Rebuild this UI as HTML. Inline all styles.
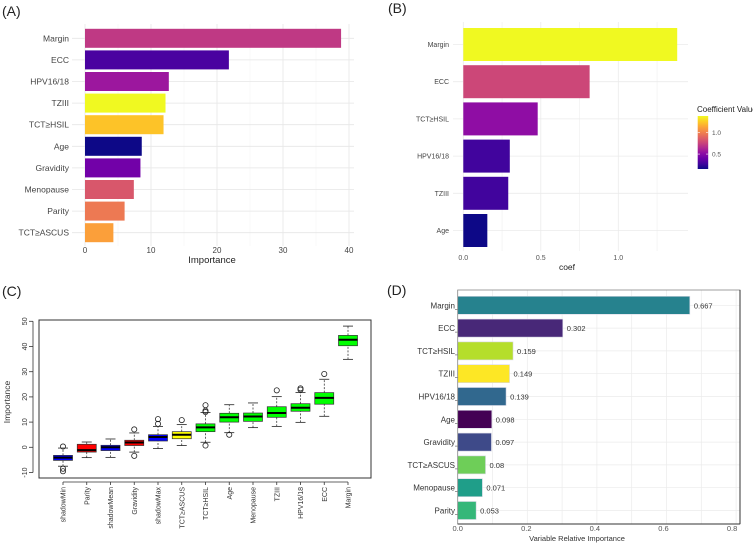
<!DOCTYPE html>
<html><head><meta charset="utf-8"><style>
html,body{margin:0;padding:0;background:#fff;}
svg{display:block;font-family:"Liberation Sans",Arial,sans-serif;}
</style></head><body>
<svg id="fig" width="753" height="544" viewBox="0 0 753 544" xmlns="http://www.w3.org/2000/svg">
<rect width="753" height="544" fill="#fff"/>
<text x="2" y="16" font-size="14" fill="#222">(A)</text>
<text x="388" y="13" font-size="14" fill="#222">(B)</text>
<text x="2" y="296" font-size="14" fill="#222">(C)</text>
<text x="387" y="295" font-size="14" fill="#222">(D)</text>
<g id="pa"></g>
<g id="pb"></g>
<g id="pc"></g>
<g id="pd"></g>
</svg>
<script>
// Panel A
const aCats = ["Margin","ECC","HPV16/18","TZIII","TCT≥HSIL","Age","Gravidity","Menopause","Parity","TCT≥ASCUS"];
const aVals = [38.8,21.8,12.7,12.2,11.9,8.6,8.4,7.4,6.0,4.3];
const aColors = ["#bf3984","#4a02a0","#9c179e","#f0f921","#fdc328","#0d0887","#7201a8","#d8576b","#ed7953","#fb9f3a"];
const aTicks = [0,10,20,30,40];
// Panel B
const bCats = ["Margin","ECC","TCT≥HSIL","HPV16/18","TZIII","Age"];
const bVals = [1.38,0.815,0.48,0.30,0.29,0.155];
const bTicks = [0,0.5,1.0];
const bLegendTicks = [0.5,1.0];
// Panel C
const cCats = ["shadowMin","Parity","shadowMean","Gravidity","shadowMax","TCT≥ASCUS","TCT≥HSIL","Age","Menopause","TZIII","HPV16/18","ECC","Margin"];
const cLo = [-7.5,-4.1,-4,-1.9,-0.5,0.7,2,5.8,7.8,8.3,9.9,12.3,34.9];
const cQ1 = [-5.2,-1.9,-1.3,0.7,2.5,3.4,6.2,10,10.3,11.9,14.3,17.1,40.3];
const cMed = [-4.1,-1.1,0,1.9,4.1,5,7.9,11.9,12.2,13.6,15.7,19.6,42.7];
const cQ3 = [-3.2,1.2,0.8,2.8,5,6.2,9.3,13.5,13.6,16.1,17.3,21.7,44.4];
const cHi = [-0.3,2.1,3.3,5.7,8.3,9,13.8,16.9,17.6,20.1,21.7,27,48.1];
const cOut = [[0.3,-8.5,-9.5],[],[],[7.1,-3.4],[11.2,9.3],[10.8],[16.7,14.5,14,0.7],[5],[],[22.6],[23.4,22.9],[29.1],[]];
const cColors = ["#0000ff","#ff0000","#0000ff","#ff0000","#0000ff","#ffff00","#00ff00","#00ff00","#00ff00","#00ff00","#00ff00","#00ff00","#00ff00"];
const cTicks = [-10,0,10,20,30,40,50];
// Panel D
const dCats = ["Margin","ECC","TCT≥HSIL","TZIII","HPV16/18","Age","Gravidity","TCT≥ASCUS","Menopause","Parity"];
const dVals = [0.667,0.302,0.159,0.149,0.139,0.098,0.097,0.08,0.071,0.053];
const dLabels = ["0.667","0.302","0.159","0.149","0.139","0.098","0.097","0.08","0.071","0.053"];
const dColors = ["#26828e","#482878","#b5de2b","#fde725","#31688e","#440154","#3e4a89","#6ece58","#1f9e89","#35b779"];
const dTicks = [0,0.2,0.4,0.6,0.8];

const NS="http://www.w3.org/2000/svg";
function mk(parent,tag,attrs,text){const e=document.createElementNS(NS,tag);for(const k in attrs)e.setAttribute(k,attrs[k]);if(text!==undefined)e.textContent=text;parent.appendChild(e);return e;}

// ---------- A ----------
(function(){
const g=document.getElementById('pa');
const x=v=>85+v*(264/40), y0=38.3, step=21.6, bh=19;
for(let v=0;v<=40;v+=5){const l=mk(g,'line',{x1:x(v),x2:x(v),y1:24,y2:246,stroke:v%10?'#f2f2f2':'#e6e6e6','stroke-width':v%10?0.5:0.8});

}
aCats.forEach((c,i)=>{const cy=y0+i*step;
const gl=mk(g,'line',{x1:72,x2:354,y1:cy,y2:cy,stroke:'#e6e6e6','stroke-width':0.8});


const r=mk(g,'rect',{x:x(0),y:cy-bh/2,width:x(aVals[i])-x(0),height:bh,fill:aColors[i]});


const t=mk(g,'text',{x:69,y:cy+3,'font-size':8.5,'text-anchor':'end',fill:'#444'},c);

});
aTicks.forEach(v=>{const t=mk(g,'text',{x:x(v),y:253,'font-size':8,'text-anchor':'middle',fill:'#444'},v);

});
const tt=mk(g,'text',{x:212,y:263,'font-size':9.5,'text-anchor':'middle',fill:'#222'},'Importance');


})();

// ---------- B ----------
(function(){
const g=document.getElementById('pb');
const x=v=>463.3+v*155, y0=44.5, step=37.2, bh=33;
const plasma=["#0d0887","#41049d","#6a00a8","#8f0da4","#b12a90","#cc4778","#e16462","#f2844b","#fca636","#fcce25","#f0f921"];
const vmin=Math.min(...bVals), vmax=Math.max(...bVals);
const col=v=>plasma[Math.round((v-vmin)/(vmax-vmin)*10)];
for(let v=0;v<=1.4;v+=0.25){const l=mk(g,'line',{x1:x(v),x2:x(v),y1:22,y2:251,stroke:'#ebebeb','stroke-width':Math.abs(v*2-Math.round(v*2))<0.01?0.8:0.5});

}
bCats.forEach((c,i)=>{const cy=y0+i*step;
const gl=mk(g,'line',{x1:453,x2:688,y1:cy,y2:cy,stroke:'#ebebeb','stroke-width':0.8});


const r=mk(g,'rect',{x:x(0),y:cy-bh/2,width:x(bVals[i])-x(0),height:bh,fill:col(bVals[i])});


const t=mk(g,'text',{x:449,y:cy+2.5,'font-size':7,'text-anchor':'end',fill:'#444'},c);

});
bTicks.forEach(v=>{const t=mk(g,'text',{x:x(v),y:260,'font-size':7,'text-anchor':'middle',fill:'#555'},v.toFixed(1));

});
const tt=mk(g,'text',{x:567,y:270,'font-size':8.5,'text-anchor':'middle',fill:'#222'},'coef');


// colorbar
const defs=mk(g,'defs',{});
const lg=mk(defs,'linearGradient',{id:'plasmaGrad',x1:0,y1:1,x2:0,y2:0});
plasma.forEach((c,i)=>mk(lg,'stop',{offset:(i/10),'stop-color':c}));
const ly=v=>169-(v-vmin)/(vmax-vmin)*53;
const cb=mk(g,'rect',{x:697.7,y:116,width:10.5,height:53,fill:'url(#plasmaGrad)'});


bLegendTicks.forEach(v=>{mk(g,'line',{x1:697.7,x2:700,y1:ly(v),y2:ly(v),stroke:'#fff','stroke-width':0.6});mk(g,'line',{x1:706,x2:708.2,y1:ly(v),y2:ly(v),stroke:'#fff','stroke-width':0.6});
const t=mk(g,'text',{x:712,y:ly(v)+2.5,'font-size':6.5,fill:'#555'},v.toFixed(1));

});
const lt=mk(g,'text',{x:697,y:112,'font-size':8,fill:'#222'},'Coefficient Value');


})();

// ---------- C ----------
(function(){
const g=document.getElementById('pc');
const y=v=>447.3-v*2.52, x=i=>63+i*23.75, bw=19;
const box=mk(g,'rect',{x:39,y:320,width:332,height:158,fill:'none',stroke:'#333','stroke-width':1});


mk(g,'line',{x1:33,x2:33,y1:y(-10),y2:y(50),stroke:'#333','stroke-width':0.8});
cTicks.forEach(v=>{mk(g,'line',{x1:29,x2:33,y1:y(v),y2:y(v),stroke:'#333','stroke-width':0.8});
const t=mk(g,'text',{x:0,y:0,'font-size':7,'text-anchor':'middle',fill:'#333',transform:`translate(27,${y(v)}) rotate(-90)`},v);

});
const yt=mk(g,'text',{x:0,y:0,'font-size':8.5,'text-anchor':'middle',fill:'#333',transform:'translate(10,402) rotate(-90)'},'Importance');


mk(g,'line',{x1:x(0),x2:x(12),y1:482,y2:482,stroke:'#333','stroke-width':0.8});
cCats.forEach((c,i)=>{const cx=x(i);
mk(g,'line',{x1:cx,x2:cx,y1:y(cLo[i]),y2:y(cQ1[i]),stroke:'#222','stroke-width':0.7,'stroke-dasharray':'2,1.5'});
mk(g,'line',{x1:cx,x2:cx,y1:y(cQ3[i]),y2:y(cHi[i]),stroke:'#222','stroke-width':0.7,'stroke-dasharray':'2,1.5'});
mk(g,'line',{x1:cx-5,x2:cx+5,y1:y(cLo[i]),y2:y(cLo[i]),stroke:'#222','stroke-width':0.8});
mk(g,'line',{x1:cx-5,x2:cx+5,y1:y(cHi[i]),y2:y(cHi[i]),stroke:'#222','stroke-width':0.8});
const r=mk(g,'rect',{x:cx-bw/2,y:y(cQ3[i]),width:bw,height:y(cQ1[i])-y(cQ3[i]),fill:cColors[i],stroke:'#333','stroke-width':0.7});


mk(g,'line',{x1:cx-bw/2,x2:cx+bw/2,y1:y(cMed[i]),y2:y(cMed[i]),stroke:'#000','stroke-width':2});
cOut[i].forEach(o=>{const p=mk(g,'circle',{cx:cx,cy:y(o),r:2.6,fill:'none',stroke:'#222','stroke-width':0.8});

});
mk(g,'line',{x1:cx,x2:cx,y1:482,y2:485,stroke:'#333','stroke-width':0.8});
const t=mk(g,'text',{x:0,y:0,'font-size':7,'text-anchor':'end',fill:'#333',transform:`translate(${cx+2.5},487) rotate(-90)`},c);

});
})();

// ---------- D ----------
(function(){
const g=document.getElementById('pd');
const x=v=>457.7+v*348, y0=305.3, step=22.8, bh=18;
for(let v=0;v<=0.8;v+=0.1){const l=mk(g,'line',{x1:x(v),x2:x(v),y1:290,y2:524,stroke:'#ebebeb','stroke-width':0.7});

}
dCats.forEach((c,i)=>{const cy=y0+i*step;
const gl=mk(g,'line',{x1:457.7,x2:740,y1:cy,y2:cy,stroke:'#ebebeb','stroke-width':0.7});


const r=mk(g,'rect',{x:x(0),y:cy-bh/2,width:x(dVals[i])-x(0),height:bh,fill:dColors[i],stroke:'#d9d9e6','stroke-width':0.6});


const vt=mk(g,'text',{x:x(dVals[i])+4,y:cy+3,'font-size':7.5,fill:'#333'},dLabels[i]);


mk(g,'line',{x1:455,x2:457.7,y1:cy+4,y2:cy+4,stroke:'#555','stroke-width':0.6});
const t=mk(g,'text',{x:455,y:cy+3,'font-size':8,'text-anchor':'end',fill:'#333'},c);

});
const fr=mk(g,'rect',{x:457.7,y:290,width:282.3,height:234,fill:'none',stroke:'#888','stroke-width':0.8});


mk(g,'line',{x1:457.7,x2:740,y1:524,y2:524,stroke:'#333','stroke-width':1});
mk(g,'line',{x1:740,x2:740,y1:290,y2:524,stroke:'#333','stroke-width':1});
dTicks.forEach(v=>{const px=457.7+v*343;
const t=mk(g,'text',{x:px,y:531,'font-size':7.5,'text-anchor':'middle',fill:'#555'},v.toFixed(1));

});
const tt=mk(g,'text',{x:577,y:541,'font-size':7.5,'text-anchor':'middle',fill:'#333'},'Variable Relative Importance');


})();
</script>
</body></html>
